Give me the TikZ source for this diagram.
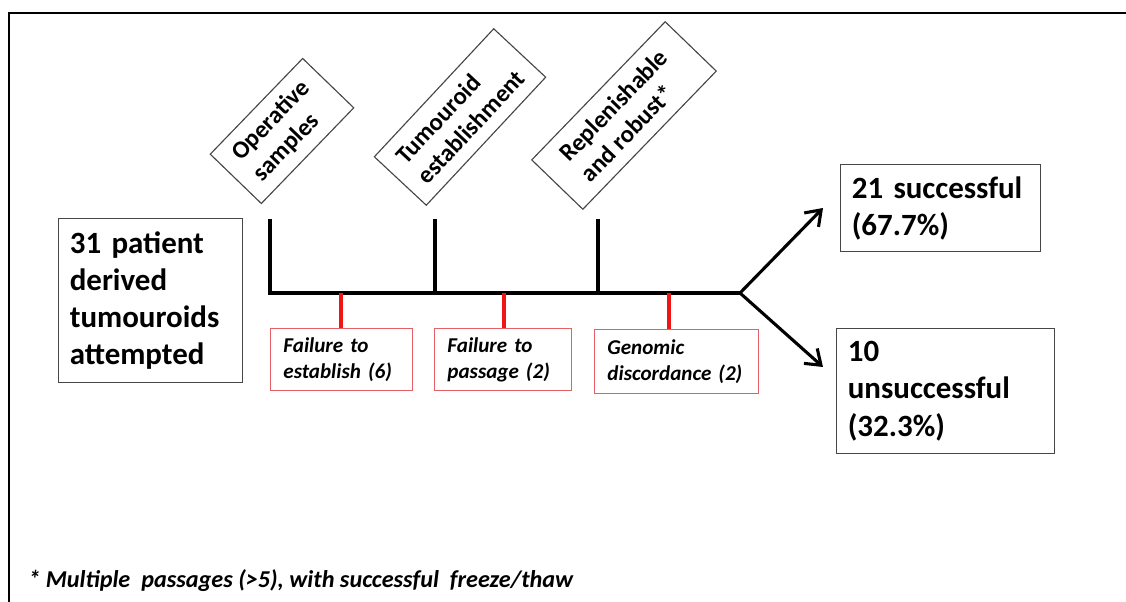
\documentclass[tikz,border=0pt]{standalone}
\usepackage{fontspec}
\setmainfont{Carlito}
\usepackage{xcolor}
\usetikzlibrary{arrows.meta,positioning}
\definecolor{boxgray}{RGB}{70,70,70}
\definecolor{lossred}{RGB}{228,96,100}
\definecolor{tickred}{RGB}{240,20,20}

\begin{document}
\begin{tikzpicture}[x=0.025cm,y=-0.025cm,
        bigbox/.style={draw=boxgray,line width=0.9pt,anchor=north west,align=left,inner ysep=0pt,inner xsep=0.28cm,font=\fontsize{22}{26.5}\selectfont\bfseries},
        lossbox/.style={draw=lossred,line width=0.9pt,anchor=north west,align=left,inner ysep=0pt,inner xsep=0.32cm,font=\fontsize{15}{18.8}\selectfont\bfseries\itshape},
        stagebox/.style={draw=boxgray,line width=0.8pt,align=left,inner sep=0pt,font=\fontsize{17.5}{21}\selectfont\bfseries},
        spine/.style={line width=2.2pt,black},
        losstick/.style={line width=2.2pt,tickred},
        branch/.style={line width=2.2pt,-{Straight Barb[length=3.5mm,width=5mm]}}]
        \useasboundingbox (0,0) rectangle (1126,602);
        \draw[line width=1.4pt] (1126,13) -- (9,13) -- (9,602);
        \node[bigbox,text width=4.04cm,minimum height=4.1cm] (P) at (58,218) {31 patient\\derived\\tumouroids\\attempted};
        \node[stagebox,minimum width=3.325cm,minimum height=1.775cm,rotate=46] (S1) at (282,131) {Operative\\samples};
        \node[stagebox,minimum width=4.375cm,minimum height=1.775cm,rotate=47] (S2) at (460,117) {Tumouroid\\establishment};
        \node[stagebox,minimum width=4.8cm,minimum height=1.775cm,rotate=46] (S3) at (624,115.5) {Replenishable\\and robust*};
        \coordinate (T1) at (270,219);
        \coordinate (T2) at (435,219);
        \coordinate (T3) at (598,219);
        \coordinate (F) at (740,293);
        \draw[spine] (T1) |- (F);
        \draw[spine] (T2) -- (T2 |- F);
        \draw[spine] (T3) -- (T3 |- F);
        \node[lossbox,text width=2.91cm,minimum height=1.55cm] (L1) at (270,328) {Failure to\\establish (6)};
        \node[lossbox,text width=2.785cm,minimum height=1.55cm] (L2) at (434,328) {Failure to\\passage (2)};
        \node[lossbox,text width=3.46cm,minimum height=1.6cm] (L3) at (594,329) {Genomic\\discordance (2)};
        \coordinate (R1) at (341,293);
        \coordinate (R2) at (504,293);
        \coordinate (R3) at (669,293);
        \draw[losstick] (R1) -- (R1 |- L1.north);
        \draw[losstick] (R2) -- (R2 |- L2.north);
        \draw[losstick] (R3) -- (R3 |- L3.north);
        \node[bigbox,text width=4.44cm,minimum height=2.175cm] (W) at (840,164) {21 successful\\(67.7\%)};
        \node[bigbox,text width=4.89cm,minimum height=3.125cm] (U) at (836,328) {10\\unsuccessful\\(32.3\%)};
        \coordinate (WA) at (823,208);
        \coordinate (UA) at (823,367);
        \draw[branch] (F) -- (WA);
        \draw[branch] (F) -- (UA);
        \node[anchor=base west,inner sep=0pt,font=\fontsize{17.2}{21}\selectfont\bfseries\itshape] (N) at (28,587) {* Multiple\ \ passages (>5), with successful\ \ freeze/thaw};
\end{tikzpicture}
\end{document}
